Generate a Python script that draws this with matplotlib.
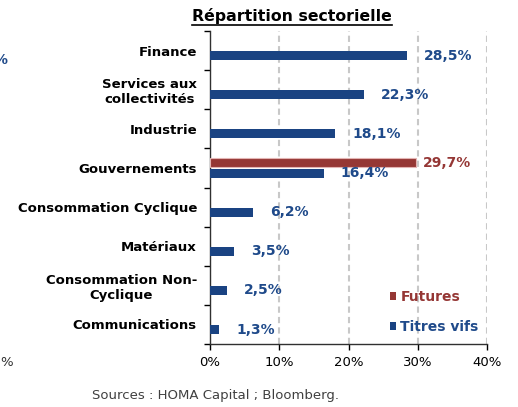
import matplotlib
matplotlib.use("Agg")
import matplotlib.pyplot as plt
import numpy as np

categories = ["Finance", "Services aux\ncollectivités", "Industrie", "Gouvernements",
              "Consommation Cyclique", "Matériaux", "Consommation Non-\nCyclique",
              "Communications"]
titres_vifs = [28.5, 22.3, 18.1, 16.4, 6.2, 3.5, 2.5, 1.3]
futures = [0, 0, 0, 29.7, 0, 0, 0, 0]
xticks = [0, 10, 20, 30, 40]
xticklabels = ["0%", "10%", "20%", "30%", "40%"]

BLUE = "#1A4382"
BLUE_TXT = "#1F4A8A"
RED = "#953735"
W, H = 518, 407

plt.rcParams['font.family'] = ['DejaVu Sans']
fig = plt.figure(figsize=(W / 100, H / 100), dpi=100)
ax = fig.add_axes([210 / W, 1 - 344 / H, 277 / W, 313 / H])

y = np.arange(len(categories))
off = 0.13
hgt = 0.23
bars_b = ax.barh(y + off, titres_vifs, height=hgt, color=BLUE, zorder=3, label="Titres vifs")
red_edges = ["#E3B4B3" if v > 0 else "none" for v in futures]
bars_r = ax.barh(y - off, futures, height=hgt, color=RED, edgecolor=red_edges,
                 linewidth=0.8, zorder=3, label="Futures")

def fmt(v):
    return f"{v:.1f}%".replace(".", ",")

for yi, v in zip(y, titres_vifs):
    ax.annotate(fmt(v), (v, yi + off), xytext=(12.2, 0), textcoords="offset points",
                ha="left", va="center", color=BLUE_TXT, fontsize=10, fontweight="bold")
for yi, v in zip(y, futures):
    if v > 0:
        ax.annotate(fmt(v), (v, yi - off), xytext=(5, 0), textcoords="offset points",
                    ha="left", va="center", color=RED, fontsize=10, fontweight="bold")

ax.set_xlim(0, 40)
ax.set_ylim(len(categories) - 0.5, -0.5)
ax.set_xticks(xticks)
ax.set_xticklabels(xticklabels, fontsize=9.5)
ax.tick_params(axis="x", direction="out", length=4, width=1, pad=5, colors="black")

ax.set_yticks(np.arange(len(categories) + 1) - 0.5)
ax.set_yticklabels([])
ax.tick_params(axis="y", which="major", direction="out", length=4, width=1)
ax.set_yticks(y, minor=True)
ax.set_yticklabels(categories, minor=True, fontsize=9.5, fontweight="bold")
ax.tick_params(axis="y", which="minor", length=0, pad=9.4)
for lbl in ax.get_yticklabels(minor=True):
    lbl.set_multialignment("center")

ax.xaxis.grid(True, linestyle=(0, (3, 2)), color="#C8C8C8", linewidth=1.5, zorder=0)
ax.set_axisbelow(True)
for s in ["top", "right"]:
    ax.spines[s].set_visible(False)
for s in ["left", "bottom"]:
    ax.spines[s].set_color("#303030")
    ax.spines[s].set_linewidth(1)

leg = ax.legend([bars_r, bars_b], ["Futures", "Titres vifs"], loc="lower left",
                bbox_to_anchor=((390 - 210) / 277, (344 - 334) / 313), frameon=False,
                borderpad=0, borderaxespad=0, handlelength=0.45, handleheight=0.45,
                handletextpad=0.3, labelspacing=1.15,
                labelcolor=[RED, BLUE_TXT], prop={"weight": "bold", "size": 10})

# title with underline
t = fig.text(292 / W, 1 - 16 / H, "Répartition sectorielle", ha="center", va="center",
             fontsize=11.3, fontweight="bold")
fig.canvas.draw()
bb = t.get_window_extent()
fig.add_artist(plt.Line2D([bb.x0 / W, bb.x1 / W], [1 - 24.5 / H] * 2,
                          transform=fig.transFigure, color="black", linewidth=1.2))

fig.text(215 / W, 1 - 396 / H, "Sources : HOMA Capital ; Bloomberg.", ha="center",
         va="center", fontsize=9.5, color="#404040")

# cropped fragments at left edge from neighbouring chart
fig.text(7 / W, 1 - 60 / H, "%", ha="right", va="center", fontsize=10,
         fontweight="bold", color=BLUE_TXT)
fig.text(0, 1 - 363 / H, "%", ha="left", va="center", fontsize=9.5, color="#303030")

fig.savefig("out.png", dpi=100)
